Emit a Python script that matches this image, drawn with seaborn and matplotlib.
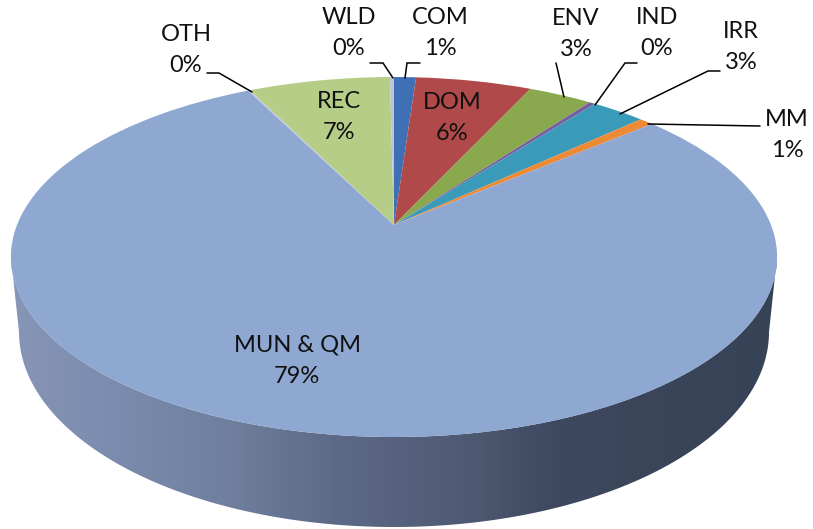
import numpy as np
import matplotlib
matplotlib.use("Agg")
import matplotlib.pyplot as plt
from matplotlib.transforms import Transform
from matplotlib.patches import Polygon
from matplotlib.colors import LinearSegmentedColormap
import seaborn as sns

# ---- data ----
categories = ["COM", "DOM", "ENV", "IND", "IRR", "MM", "MUN & QM", "OTH", "REC", "WLD"]
shares = [1.1, 5.8, 3.2, 0.3, 2.7, 0.7, 78.7, 0.1, 7.1, 0.2]
slice_colors = ["#3F70B6", "#B0494A", "#8AA94F", "#7660A0", "#3A9ABA", "#EC8A35",
                "#8FA8D2", "#BCC6DA", "#B6CD88", "#BEC4D6"]

# ---- layout (pixels) ----
W, H_PX = 813, 529
CX, CY = 394.0, 257.0
label_xy = {"COM": (440, 33), "DOM": (452, 118), "ENV": (576, 34), "IND": (657, 33),
            "IRR": (741, 47), "MM": (787, 135), "MUN & QM": (297, 361), "OTH": (186, 50),
            "REC": (339, 117), "WLD": (349, 33)}
leaders = {"WLD": [(370, 63), (383, 63), (393, 78)],
           "COM": [(420, 63), (407, 63), (405, 78)],
           "ENV": [(556, 63), (564, 97)],
           "IND": [(637, 63), (625, 63), (595, 105)],
           "IRR": [(720, 71), (708, 71), (620, 114)],
           "MM": [(760, 126), (648, 124)],
           "OTH": [(207, 73), (219, 73), (252, 92)]}


class Perspective(Transform):
    """Projects the unit-circle pie onto the tilted disc."""
    input_dims = output_dims = 2
    is_separable = False
    has_inverse = False
    k, a, b, r = 0.178, 180.0, 32.0, 377.0

    def transform_non_affine(self, xy):
        xy = np.asarray(xy, float)
        w = 1 + self.k * xy[:, 1]
        return np.column_stack((CX + self.r * xy[:, 0] / w,
                                CY - (self.a * xy[:, 1] + self.b) / w))


sns.set_theme(style="white")
plt.rcParams["font.family"] = ["Lato", "DejaVu Sans"]
palette = sns.color_palette(slice_colors)

fig = plt.figure(figsize=(W / 100, H_PX / 100), dpi=100)
ax = fig.add_axes([0, 0, 1, 1])

# side wall of the disc
t = np.linspace(np.pi, 2 * np.pi, 200)
top_x, top_y = CX + 383 * np.cos(t), CY - 180 * np.sin(t)
bot_x, bot_y = CX + 375 * np.cos(t), 332 - 195 * np.sin(t)
wall = np.vstack((np.column_stack((top_x, top_y)), np.column_stack((bot_x, bot_y))[::-1]))
cmap = LinearSegmentedColormap.from_list(
    "wall", ["#8795B6", "#7A8BAD", "#6F7F9D", "#5C6986", "#515C76", "#3E4960", "#3A4559", "#364255"])
grad = np.linspace(0, 1, 400).reshape(1, -1)
im = ax.imshow(grad, extent=(11, 777, 529, 230), cmap=cmap, aspect="auto", zorder=1)
im.set_clip_path(Polygon(wall, closed=True, transform=ax.transData))

# top surface
wedges, _ = ax.pie(shares, colors=palette, startangle=90, counterclock=False,
                   wedgeprops=dict(linewidth=0))
proj = Perspective()
for w in wedges:
    w.set_transform(proj + ax.transData)
    w.set_clip_on(False)
    w.set_zorder(2)

ax.set_aspect("auto")
ax.set_xlim(0, W)
ax.set_ylim(H_PX, 0)
ax.axis("off")

for name, pts in leaders.items():
    xs, ys = zip(*pts)
    ax.plot(xs, ys, color="black", lw=1.1, zorder=3, solid_joinstyle="miter")

for name, share in zip(categories, shares):
    x, y = label_xy[name]
    ax.text(x, y, f"{name}\n{share:.0f}%", ha="center", va="center", fontsize=17,
            color="#111111", linespacing=1.6, zorder=4)

fig.savefig("out.png", dpi=100, facecolor="white")
